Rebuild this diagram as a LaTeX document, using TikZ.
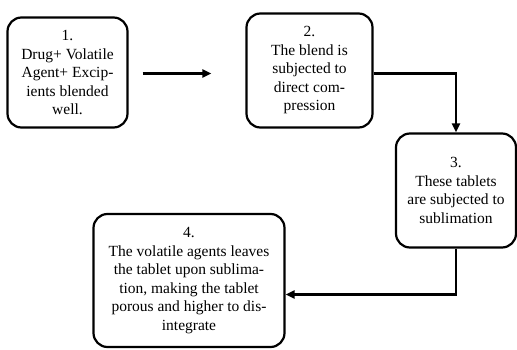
\documentclass[tikz,border=0pt]{standalone}
\usepackage{fontspec}
\setmainfont{Liberation Serif}
\usetikzlibrary{arrows.meta, positioning, calc}

\begin{document}
\begin{tikzpicture}[
    x=1pt, y=1pt,
    stepbox/.style={rectangle, rounded corners=14pt, draw=black, fill=white, line width=2.2pt, align=center, font=\fontsize{15.5}{18.5}\selectfont, inner sep=2pt},
    arrow/.style={-{Triangle[length=9pt, width=8pt]}, line width=2.2pt}
]
    \useasboundingbox (0,0) rectangle (517,349);

    % Top row
    \node[stepbox, minimum width=120pt, minimum height=110pt] (blend) at (67.5,276.5) {1.\\Drug+ Volatile\\Agent+ Excip-\\ients blended\\well.};
    \node[stepbox, minimum width=126pt, minimum height=114pt] (compress) at (309.5,278.5) {2.\\The blend is\\subjected to\\direct com-\\pression};

    % Right column
    \node[stepbox, minimum width=120pt, minimum height=114pt] (sublime) at (456,158.5) {3.\\These tablets\\are subjected to\\sublimation};

    % Bottom row
    \node[stepbox, minimum width=191pt, minimum height=133pt] (porous) at (189,68.5) {4.\\The volatile agents leaves\\the tablet upon sublima-\\tion, making the tablet\\porous and higher to dis-\\integrate};

    % Connections
    \draw[arrow, shorten <=14pt, shorten >=34pt] ([yshift=-1pt]blend.east) -- ([yshift=-1pt]blend.east -| compress.west);
    \draw[arrow] ([yshift=-3pt]compress.east) -| (sublime.north);
    \draw[arrow] (sublime.south) |- ([yshift=-14pt]porous.east);

\end{tikzpicture}
\end{document}
